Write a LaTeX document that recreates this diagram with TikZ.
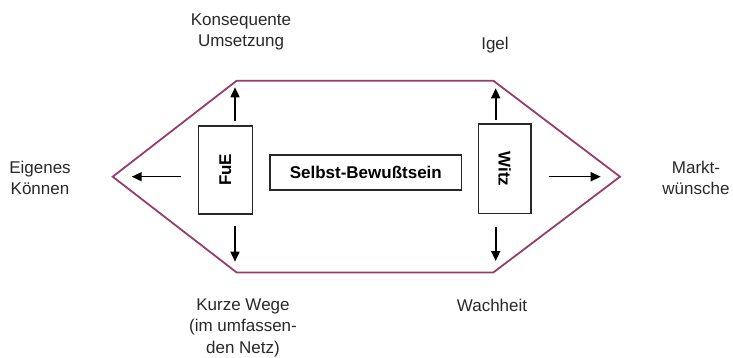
\documentclass[tikz,border=0pt]{standalone}
\usepackage{fontspec}
\setmainfont{Liberation Sans}
\usetikzlibrary{arrows.meta}
\definecolor{hexcol}{RGB}{150,62,105}
\definecolor{txtcol}{RGB}{40,40,40}
\begin{document}
\begin{tikzpicture}[x=1pt,y=-1pt,
  hexline/.style={draw=hexcol,line width=1.8pt,line join=miter},
  boxstyle/.style={draw=txtcol,line width=1.6pt,inner sep=0pt,font=\fontsize{17}{17}\selectfont\bfseries,text=black},
  arr/.style={draw=black,line width=1.6pt,-{Triangle[length=10pt,width=9pt]}},
  lbl/.style={font=\fontsize{17}{21.5}\selectfont,text=txtcol,align=center,inner sep=0pt}]
\useasboundingbox (0,0) rectangle (733,358);
% hexagon corners
\coordinate (L) at (112.7,176.7);
\coordinate (TL) at (236.7,80.7);
\coordinate (TR) at (493.3,80.7);
\coordinate (R) at (620,176.7);
\coordinate (BR) at (493.3,272.5);
\coordinate (BL) at (236.7,272.5);
\draw[hexline] (L) -- (TL) -- (TR) -- (R) -- (BR) -- (BL) -- cycle;
% boxes
\node[boxstyle,minimum width=54pt,minimum height=88pt] (FuE) at (225.3,169.8) {};
\node[rotate=90,font=\fontsize{17}{17}\selectfont\bfseries] (FuEt) at (FuE.center) {FuE};
\node[boxstyle,minimum width=52.7pt,minimum height=89pt] (Witz) at (504.7,168.8) {};
\node[rotate=-90,font=\fontsize{17}{17}\selectfont\bfseries] (Witzt) at (Witz.center) {Witz};
\node[boxstyle,minimum width=191.7pt,minimum height=35pt] (SB) at (365.8,172.5) {Selbst-Bewußtsein};
% arrow end points
\coordinate (aUL) at (235,87.3);
\coordinate (aDL) at (235,261.7);
\coordinate (aL) at (131.7,176.7);
\coordinate (aUR) at (495.7,88.3);
\coordinate (aDR) at (495.7,261);
\coordinate (aR) at (600.7,176.7);
\draw[arr,shorten <=4pt] (FuE.north -| aUL) -- (aUL);
\draw[arr,shorten <=11.7pt] (FuE.south -| aDL) -- (aDL);
\draw[arr,shorten <=16.6pt] (FuE.west |- aL) -- (aL);
\draw[arr,shorten <=3.3pt] (Witz.north -| aUR) -- (aUR);
\draw[arr,shorten <=12.4pt] (Witz.south -| aDR) -- (aDR);
\draw[arr,shorten <=16.7pt] (Witz.east |- aR) -- (aR);
% labels
\node[lbl] (konseq) at (241,32) {Konsequente\\Umsetzung};
\node[lbl] (igel) at (495,45) {Igel};
\node[lbl] (eigen) at (40,178) {Eigenes\\Können};
\node[lbl] (markt) at (696,178) {Markt-\\wünsche};
\node[lbl] (kurz) at (243,327.5) {Kurze Wege\\(im umfassen-\\den Netz)};
\node[lbl] (wach) at (492,305) {Wachheit};
\end{tikzpicture}
\end{document}
